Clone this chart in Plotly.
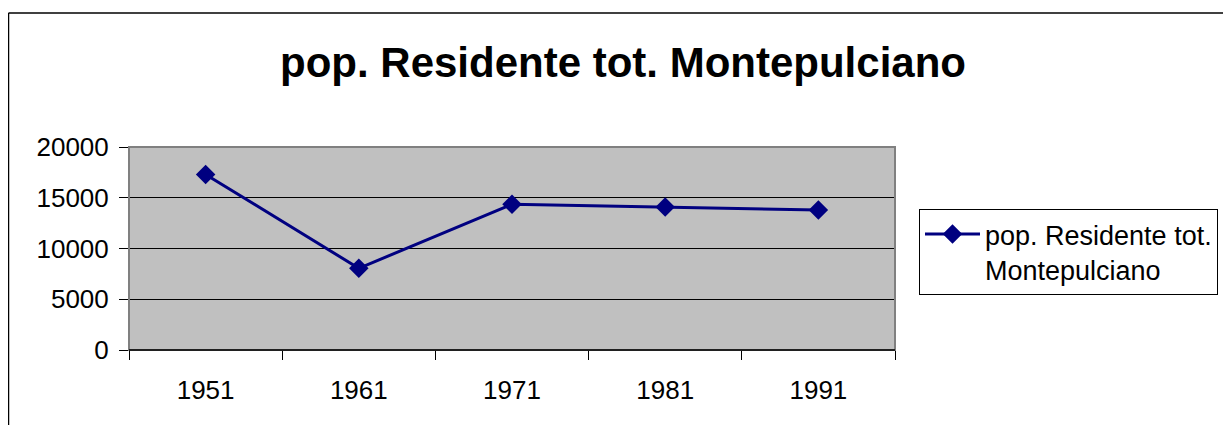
import plotly.graph_objects as go

years = ["1951", "1961", "1971", "1981", "1991"]
population = [17300, 8050, 14350, 14100, 13800]
series_name = "pop. Residente tot.<br>Montepulciano"
chart_title = "pop. Residente tot. Montepulciano"
y_ticks = [0, 5000, 10000, 15000, 20000]

OFF = 8  # page body margin offset
W, H = 1231 - OFF, 425 - OFF
L, R, T, B = 129 - OFF, 895 - OFF, 147 - OFF, 350 - OFF  # plot area in figure pixels

def px_x(p):
    return (p - OFF - L) / (R - L)

def px_y(p):
    return (B - (p - OFF)) / (B - T)

FONT = "Liberation Sans, Arial, sans-serif"

fig = go.Figure()
fig.add_trace(go.Scatter(
    x=years, y=population, name=series_name, mode="lines+markers",
    line=dict(color="#000080", width=3),
    marker=dict(symbol="diamond", size=15, color="#000080"),
    showlegend=True,
))

fig.update_layout(
    width=W, height=H,
    margin=dict(l=L, r=W - R, t=T, b=H - B, pad=0),
    paper_bgcolor="white", plot_bgcolor="#C0C0C0",
    font=dict(family=FONT, size=26, color="black"),
    title=dict(text="<b>" + chart_title + "</b>", font=dict(family=FONT, size=42, color="black"),
               xref="container", yref="container", x=(623 - OFF) / W, y=1 - (62 - OFF) / H,
               xanchor="center", yanchor="middle"),
    showlegend=True,
    legend=dict(x=px_x(919), y=px_y(209), xanchor="left", yanchor="top",
                bordercolor="black", borderwidth=1, bgcolor="white",
                font=dict(family=FONT, size=27, color="black"), valign="top",
                itemwidth=55, tracegroupgap=0),
    xaxis=dict(type="category", range=[-0.5, 4.5], showgrid=False, zeroline=False,
               showline=True, linecolor="black", linewidth=1,
               ticks="outside", tickson="boundaries", ticklen=9, tickcolor="black",
               ticklabelstandoff=17, tickfont=dict(family=FONT, size=26, color="black"),
               fixedrange=True),
    yaxis=dict(range=[0, 20000], tickvals=y_ticks, tickformat="d",
               showgrid=True, gridcolor="black", gridwidth=1, zeroline=False,
               showline=False, ticks="outside", ticklen=9, tickcolor="black",
               ticklabelstandoff=5, tickfont=dict(family=FONT, size=26, color="black"),
               fixedrange=True),
)

# plot-area border (gray) and outer chart border (black)
fig.add_shape(type="rect", xref="paper", yref="paper", x0=0, x1=1, y0=0, y1=1,
              line=dict(color="#808080", width=2), layer="above")
fig.add_shape(type="line", xref="paper", yref="paper", x0=0, x1=1, y0=0, y1=0,
              line=dict(color="black", width=1.5), layer="above")
fig.add_shape(type="line", xref="paper", yref="paper", x0=px_x(8.5), x1=px_x(8.5),
              y0=px_y(13), y1=px_y(440), line=dict(color="black", width=1.5))
fig.add_shape(type="line", xref="paper", yref="paper", x0=px_x(8.5), x1=px_x(1240),
              y0=px_y(13), y1=px_y(13), line=dict(color="black", width=1.5))

fig.write_html("out.html")
